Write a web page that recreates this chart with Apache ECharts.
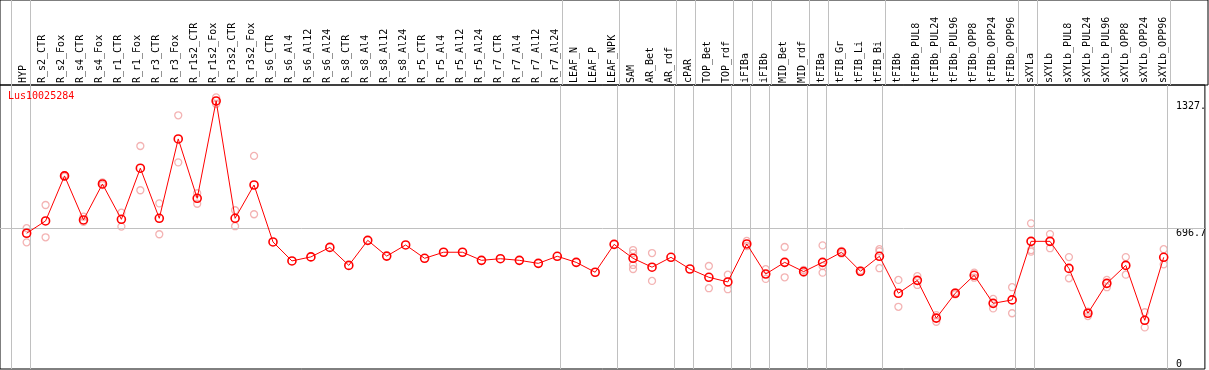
<!DOCTYPE html>
<html>
<head>
<meta charset="utf-8">
<script src="https://cdn.jsdelivr.net/npm/echarts@6/dist/echarts.min.js"></script>
<style>
html,body{margin:0;padding:0;background:#fff;}
#chart{width:1209px;height:370px;}
</style>
</head>
<body>
<div id="chart"></div>
<script>
const N = null;
const categories = ['HYP','R_s2_CTR','R_s2_Fox','R_s4_CTR','R_s4_Fox','R_r1_CTR','R_r1_Fox','R_r3_CTR','R_r3_Fox','R_r1s2_CTR','R_r1s2_Fox','R_r3s2_CTR','R_r3s2_Fox','R_s6_CTR','R_s6_Al4','R_s6_Al12','R_s6_Al24','R_s8_CTR','R_s8_Al4','R_s8_Al12','R_s8_Al24','R_r5_CTR','R_r5_Al4','R_r5_Al12','R_r5_Al24','R_r7_CTR','R_r7_Al4','R_r7_Al12','R_r7_Al24','LEAF_N','LEAF_P','LEAF_NPK','SAM','AR_Bet','AR_rdf','cPAR','TOP_Bet','TOP_rdf','iFIBa','iFIBb','MID_Bet','MID_rdf','tFIBa','tFIB_Gr','tFIB_Li','tFIB_Bi','tFIBb','tFIBb_PUL8','tFIBb_PUL24','tFIBb_PUL96','tFIBb_OPP8','tFIBb_OPP24','tFIBb_OPP96','sXYLa','sXYLb','sXYLb_PUL8','sXYLb_PUL24','sXYLb_PUL96','sXYLb_OPP8','sXYLb_OPP24','sXYLb_OPP96'];
const meanValues = [672,733,956,738,916,741,994,746,1139,845,1327,746,911,
  629,535,555,602,513,637,559,614,548,578,578,538,546,538,523,558,528,479,617,
  548,504,553,495,454,431,619,470,528,482,528,578,484,558,375,439,252,375,464,325,342,632,632,498,276,424,513,241,553];
const rep1 = [697,812,960,754,924,774,1104,820,1256,870,1345,786,1055,
  N,N,N,N,N,N,N,N,N,N,N,N,N,N,N,N,N,N,N,
  589,574,N,N,510,467,634,494,604,490,612,585,488,593,441,460,267,380,477,347,405,721,668,554,284,441,554,281,593];
const rep2 = [627,652,952,729,911,705,885,667,1023,818,1312,707,766,
  N,N,N,N,N,N,N,N,N,N,N,N,N,N,N,N,N,N,N,
  573,436,N,N,400,395,609,446,454,476,510,572,480,583,308,416,234,370,452,300,276,589,598,449,262,405,467,206,518];
const rep3 = [N,N,N,N,N,N,N,N,N,N,N,N,N,
  N,N,N,N,N,N,N,N,N,N,N,N,N,N,N,N,N,N,N,
  515,N,N,N,N,N,N,N,N,N,477,N,N,499,N,N,N,N,N,N,N,581,N,N,N,N,N,N,N];
const rep4 = [N,N,N,N,N,N,N,N,N,N,N,N,N,
  N,N,N,N,N,N,N,N,N,N,N,N,N,N,N,N,N,N,N,
  495,N,N,N,N,N,N,N,N,N,N,N,N,N,N,N,N,N,N,N,N,N,N,N,N,N,N,N,N];
const groupStartBefore = ['HYP'];
const groupBreaksAfter = ['HYP','R_r7_Al24','LEAF_NPK','AR_rdf','cPAR','TOP_rdf','iFIBa','iFIBb','MID_rdf','tFIBa','tFIB_Bi','tFIBb_OPP96','sXYLa','sXYLb_OPP96'];
const yTickValues = [696.7, 1327];
const yTickLabels = ['696.7', '1327.'];
const yZeroLabel = '0';
const refLineValue = 696.7;
const geneName = 'Lus10025284';

// layout
const W = 1208, HEADER_H = 85, PLOT_H = 284;
const X0 = 26.7, STEP = 19;       // pixel of first category, spacing
const SEP_OFF = 0.174;            // separator offset in category units
const xMin = -X0 / STEP, xMax = (W - X0) / STEP;
const yMax = 1406;
const FONT = 'DejaVu Sans Mono';

const sepValues = [];
groupStartBefore.forEach(n => sepValues.push(categories.indexOf(n) - 1 + SEP_OFF));
groupBreaksAfter.forEach(n => sepValues.push(categories.indexOf(n) + SEP_OFF));
const sepLines = sepValues.map(v => ({ xAxis: v }));

const toPairs = arr => arr.map((v, i) => v == null ? null : [i, v]).filter(d => d);

const repStyle = {
  type: 'scatter', xAxisIndex: 2, yAxisIndex: 2, symbol: 'circle', symbolSize: 7,
  itemStyle: { color: 'rgba(0,0,0,0)', borderColor: '#f0a0a0', borderWidth: 1.3 },
  z: 3, silent: true
};

const option = {
  animation: false,
  backgroundColor: '#fff',
  title: {
    text: geneName, left: 8, top: 91, padding: 0,
    textStyle: { color: '#ff0000', fontFamily: FONT, fontSize: 10, fontWeight: 'normal' }
  },
  grid: [
    { left: 0, top: 0, width: W, height: HEADER_H, show: true, borderColor: '#000', borderWidth: 1, backgroundColor: 'transparent' },
    { left: X0 - STEP / 2 - 3, top: 0, width: STEP * categories.length, height: HEADER_H },
    { left: 0, top: HEADER_H, width: W, height: PLOT_H, show: true, borderColor: '#000', borderWidth: 1, backgroundColor: 'transparent' }
  ],
  xAxis: [
    { gridIndex: 0, type: 'value', min: xMin, max: xMax, show: false },
    { gridIndex: 1, type: 'category', data: categories, boundaryGap: true, position: 'bottom',
      axisLine: { show: false }, axisTick: { show: false }, splitLine: { show: false },
      axisLabel: { inside: true, rotate: 90, interval: 0, margin: 2, fontFamily: FONT, fontSize: 10, color: '#000' } },
    { gridIndex: 2, type: 'value', min: xMin, max: xMax, show: false }
  ],
  yAxis: [
    { gridIndex: 0, type: 'value', min: 0, max: 1, show: false },
    { gridIndex: 1, type: 'value', min: 0, max: 1, show: false },
    { gridIndex: 2, type: 'value', min: 0, max: yMax, position: 'right', offset: -29,
      axisLine: { show: false }, axisTick: { show: false }, splitLine: { show: false },
      axisLabel: { customValues: yTickValues, margin: 0, verticalAlign: 'top', align: 'left',
        fontFamily: FONT, fontSize: 10, color: '#000',
        formatter: v => { const k = yTickValues.findIndex(t => Math.abs(t - v) < 1e-6); return k >= 0 ? yTickLabels[k] : ''; } } },
    { gridIndex: 2, type: 'value', min: 0, max: yMax, position: 'right', offset: -29,
      axisLine: { show: false }, axisTick: { show: false }, splitLine: { show: false },
      axisLabel: { customValues: [0], margin: 0, verticalAlign: 'bottom', align: 'left',
        fontFamily: FONT, fontSize: 10, color: '#000', formatter: () => yZeroLabel } }
  ],
  series: [
    { type: 'line', xAxisIndex: 0, yAxisIndex: 0, data: [], silent: true,
      markLine: { silent: true, symbol: ['none', 'none'], label: { show: false },
        lineStyle: { color: '#c0c0c0', type: 'solid', width: 1 }, emphasis: { disabled: true },
        data: sepLines } },
    { type: 'line', xAxisIndex: 2, yAxisIndex: 2, data: [], silent: true, z: 1,
      markLine: { silent: true, symbol: ['none', 'none'], label: { show: false },
        lineStyle: { color: '#c0c0c0', type: 'solid', width: 1 }, emphasis: { disabled: true },
        data: sepLines.concat([{ yAxis: refLineValue }]) } },
    Object.assign({ data: toPairs(rep1) }, repStyle),
    Object.assign({ data: toPairs(rep2) }, repStyle),
    Object.assign({ data: toPairs(rep3) }, repStyle),
    Object.assign({ data: toPairs(rep4) }, repStyle),
    { type: 'line', xAxisIndex: 2, yAxisIndex: 2, data: toPairs(meanValues), z: 5, silent: true,
      symbol: 'circle', symbolSize: 8, showAllSymbol: true,
      lineStyle: { color: '#ff0000', width: 1 },
      itemStyle: { color: 'rgba(255,255,255,0)', borderColor: '#ff0000', borderWidth: 1.6 } }
  ]
};

const chart = echarts.init(document.getElementById('chart'), null, { renderer: 'canvas' });
chart.setOption(option);
</script>
</body>
</html>
